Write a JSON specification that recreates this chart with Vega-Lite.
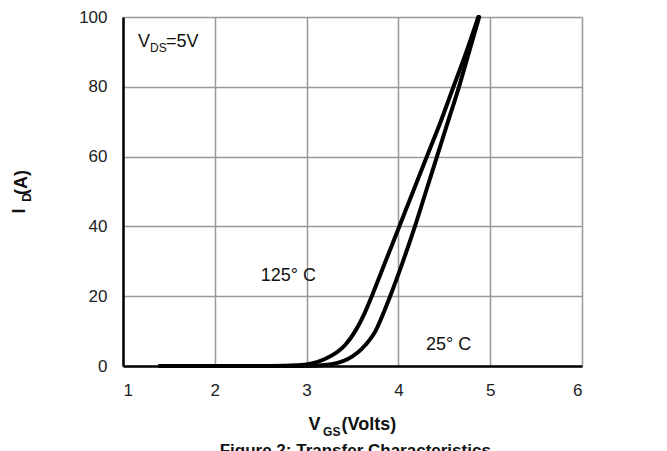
{
  "$schema": "https://vega.github.io/schema/vega-lite/v6.json",
  "autosize": "none",
  "width": 459,
  "height": 349,
  "padding": {"left": 123, "top": 17, "right": 85, "bottom": 85},
  "background": "white",
  "config": {
    "font": "Liberation Sans",
    "view": {"stroke": null},
    "axis": {
      "labelFont": "Liberation Sans",
      "labelFontSize": 17,
      "labelColor": "#222",
      "grid": true,
      "gridColor": "#999",
      "gridWidth": 1.5,
      "domainColor": "#000",
      "domainWidth": 2.5,
      "ticks": false,
      "title": null
    }
  },
  "datasets": {
    "curves": [
      {"vgs": 1.4, "id": 0, "temp": "125C"},
      {"vgs": 2.6, "id": 0, "temp": "125C"},
      {"vgs": 2.9, "id": 0.2, "temp": "125C"},
      {"vgs": 3.2, "id": 2, "temp": "125C"},
      {"vgs": 3.42, "id": 6, "temp": "125C"},
      {"vgs": 3.53, "id": 10, "temp": "125C"},
      {"vgs": 3.63, "id": 15, "temp": "125C"},
      {"vgs": 3.71, "id": 20, "temp": "125C"},
      {"vgs": 3.86, "id": 30, "temp": "125C"},
      {"vgs": 4.01, "id": 40, "temp": "125C"},
      {"vgs": 4.16, "id": 50, "temp": "125C"},
      {"vgs": 4.31, "id": 60, "temp": "125C"},
      {"vgs": 4.46, "id": 70, "temp": "125C"},
      {"vgs": 4.6, "id": 80, "temp": "125C"},
      {"vgs": 4.74, "id": 90, "temp": "125C"},
      {"vgs": 4.87, "id": 100, "temp": "125C"},
      {"vgs": 1.4, "id": 0, "temp": "25C"},
      {"vgs": 2.95, "id": 0, "temp": "25C"},
      {"vgs": 3.2, "id": 0.3, "temp": "25C"},
      {"vgs": 3.45, "id": 2, "temp": "25C"},
      {"vgs": 3.64, "id": 6, "temp": "25C"},
      {"vgs": 3.75, "id": 10, "temp": "25C"},
      {"vgs": 3.85, "id": 16, "temp": "25C"},
      {"vgs": 3.91, "id": 20, "temp": "25C"},
      {"vgs": 4.05, "id": 30, "temp": "25C"},
      {"vgs": 4.18, "id": 40, "temp": "25C"},
      {"vgs": 4.3, "id": 50, "temp": "25C"},
      {"vgs": 4.42, "id": 60, "temp": "25C"},
      {"vgs": 4.54, "id": 70, "temp": "25C"},
      {"vgs": 4.66, "id": 80, "temp": "25C"},
      {"vgs": 4.77, "id": 90, "temp": "25C"},
      {"vgs": 4.88, "id": 100, "temp": "25C"}
    ],
    "mainText": [
      {"x": 1.163, "y": 92.8, "text": "V"},
      {"x": 1.468, "y": 92.8, "text": "=5V"},
      {"x": 2.5, "y": 25.8, "text": "125°  C"},
      {"x": 4.3, "y": 6, "text": "25°  C"}
    ],
    "subText": [
      {"x": 1.294, "y": 91.0, "text": "DS"}
    ],
    "xTitle": [
      {"x": 3.02, "y": -16.9, "text": "V"},
      {"x": 3.38, "y": -16.9, "text": "(Volts)"}
    ],
    "xTitleSub": [
      {"x": 3.18, "y": -19.0, "text": "GS"}
    ],
    "yTitle": [
      {"x": -0.12, "y": 44.4, "text": "I"},
      {"x": -0.1, "y": 52.6, "text": "(A)"}
    ],
    "yTitleSub": [
      {"x": -0.05, "y": 48.3, "text": "D"}
    ],
    "caption": [
      {"x": 3.53, "y": -24.4, "text": "Figure 2: Transfer Characteristics"}
    ]
  },
  "encoding": {
    "x": {"field": "vgs", "type": "quantitative", "scale": {"domain": [1, 6], "nice": false, "zero": false},
          "axis": {"values": [1, 2, 3, 4, 5, 6], "labelPadding": 16, "format": "d"}},
    "y": {"field": "id", "type": "quantitative", "scale": {"domain": [0, 100], "nice": false},
          "axis": {"values": [0, 20, 40, 60, 80, 100], "labelPadding": 16, "format": "d"}}
  },
  "layer": [
    {
      "data": {"name": "curves"},
      "mark": {"type": "line", "color": "#000", "strokeWidth": 4, "interpolate": "monotone", "strokeCap": "round"},
      "encoding": {"detail": {"field": "temp"}}
    },
    {
      "data": {"name": "mainText"},
      "mark": {"type": "text", "align": "left", "baseline": "middle", "fontSize": 18, "color": "#111"},
      "encoding": {
        "x": {"field": "x", "type": "quantitative"},
        "y": {"field": "y", "type": "quantitative"},
        "text": {"field": "text"}
      }
    },
    {
      "data": {"name": "subText"},
      "mark": {"type": "text", "align": "left", "baseline": "middle", "fontSize": 12, "color": "#111"},
      "encoding": {
        "x": {"field": "x", "type": "quantitative"},
        "y": {"field": "y", "type": "quantitative"},
        "text": {"field": "text"}
      }
    },
    {
      "data": {"name": "xTitle"},
      "mark": {"type": "text", "align": "left", "baseline": "middle", "fontSize": 18, "fontWeight": "bold", "color": "#111"},
      "encoding": {
        "x": {"field": "x", "type": "quantitative"},
        "y": {"field": "y", "type": "quantitative"},
        "text": {"field": "text"}
      }
    },
    {
      "data": {"name": "xTitleSub"},
      "mark": {"type": "text", "align": "left", "baseline": "middle", "fontSize": 12, "fontWeight": "bold", "color": "#111"},
      "encoding": {
        "x": {"field": "x", "type": "quantitative"},
        "y": {"field": "y", "type": "quantitative"},
        "text": {"field": "text"}
      }
    },
    {
      "data": {"name": "yTitle"},
      "mark": {"type": "text", "align": "center", "baseline": "middle", "fontSize": 18, "fontWeight": "bold", "angle": 270, "color": "#111"},
      "encoding": {
        "x": {"field": "x", "type": "quantitative"},
        "y": {"field": "y", "type": "quantitative"},
        "text": {"field": "text"}
      }
    },
    {
      "data": {"name": "yTitleSub"},
      "mark": {"type": "text", "align": "center", "baseline": "middle", "fontSize": 12, "fontWeight": "bold", "angle": 270, "color": "#111"},
      "encoding": {
        "x": {"field": "x", "type": "quantitative"},
        "y": {"field": "y", "type": "quantitative"},
        "text": {"field": "text"}
      }
    },
    {
      "data": {"name": "caption"},
      "mark": {"type": "text", "align": "center", "baseline": "middle", "fontSize": 17, "fontWeight": "bold", "color": "#111"},
      "encoding": {
        "x": {"field": "x", "type": "quantitative"},
        "y": {"field": "y", "type": "quantitative"},
        "text": {"field": "text"}
      }
    }
  ]
}
